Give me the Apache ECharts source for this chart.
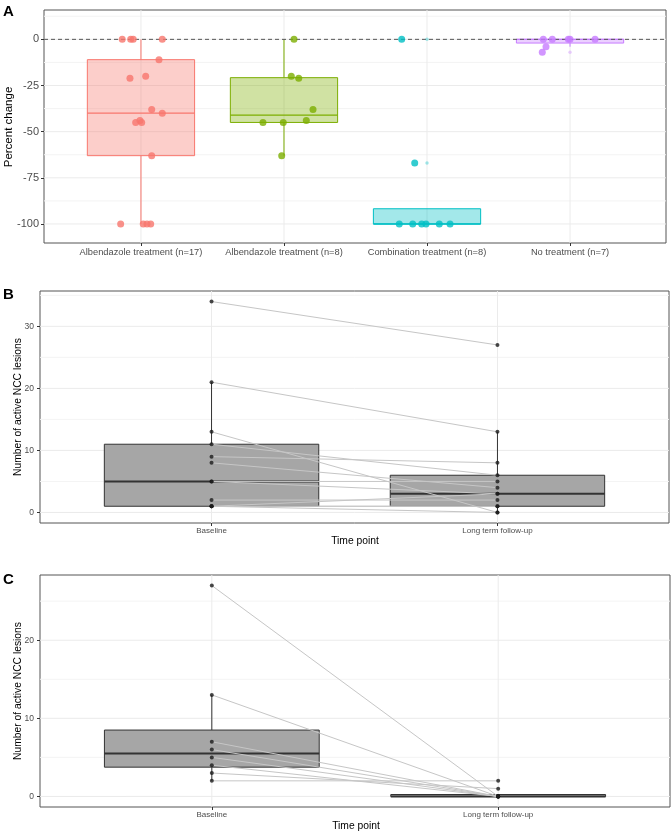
<!DOCTYPE html>
<html><head><meta charset="utf-8">
<script src="https://cdn.jsdelivr.net/npm/echarts@6/dist/echarts.min.js"></script>
<style>html,body{margin:0;padding:0;background:#fff}#c{width:672px;height:833px}</style>
</head><body><div id="c"></div>
<script>
const FONT = '"Liberation Sans", Arial, Helvetica, sans-serif';

// ---------- Panel A data ----------
const aCategories = ['Albendazole treatment (n=17)', 'Albendazole treatment (n=8)', 'Combination treatment (n=8)', 'No treatment (n=7)'];
const aColors = ['#F8766D', '#7CAE00', '#00BFC4', '#C77CFF'];
const aGroup1 = [0, 0, 0, 0, -11, -21, -20, -38, -40, -45, -44, -45, -63, -100, -100, -100, -100];
const aGroup1Jitter = [-0.131, -0.072, -0.054, 0.149, 0.126, -0.077, 0.033, 0.075, 0.149, -0.037, -0.007, 0.005, 0.075, -0.142, 0.016, 0.042, 0.068];
const aGroup2 = [0, -20, -21, -38, -44, -45, -45, -63];
const aGroup2Jitter = [0.07, 0.051, 0.103, 0.203, 0.156, -0.147, -0.005, -0.016];
const aGroup3 = [0, -67, -100, -100, -100, -100, -100, -100];
const aGroup3Jitter = [-0.177, -0.086, -0.194, -0.1, -0.037, -0.007, 0.086, 0.161];
const aGroup4 = [0, 0, 0, 0, 0, -4, -7];
const aGroup4Jitter = [-0.187, -0.124, -0.012, 0, 0.175, -0.168, -0.194];
const aYTicks = [-100, -75, -50, -25, 0];
const aYMinor = [-87.5, -62.5, -37.5, -12.5, 12.5];

// ---------- Panel B data ----------
const timePoints = ['Baseline', 'Long term follow-up'];
const bBaseline = [34, 21, 13, 11, 9, 8, 5, 5, 2, 1, 1, 1, 1];
const bFollowUp = [27, 13, 0, 6, 8, 4, 3, 5, 2, 1, 0, 1, 3];
const bYTicks = [0, 10, 20, 30];
const bYMinor = [5, 15, 25, 35];

// ---------- Panel C data ----------
const cBaseline = [27, 13, 7, 6, 5, 4, 3, 2];
const cFollowUp = [0, 0, 0, 0, 0, 0, 1, 2];
const cYTicks = [0, 10, 20];
const cYMinor = [5, 15, 25];

// ---------- helpers ----------
function boxStats(vals) {
  const s = vals.slice().sort((a, b) => a - b);
  const q = p => { const pos = (s.length - 1) * p; const lo = Math.floor(pos), hi = Math.ceil(pos); return s[lo] + (s[hi] - s[lo]) * (pos - lo); };
  const q1 = q(0.25), md = q(0.5), q3 = q(0.75), iqr = q3 - q1;
  const lf = q1 - 1.5 * iqr, uf = q3 + 1.5 * iqr;
  const inside = s.filter(v => v >= lf && v <= uf);
  return { lo: Math.min(inside[0], q1), q1, md, q3, hi: Math.max(inside[inside.length - 1], q3), out: s.filter(v => v < lf || v > uf) };
}
function gridData(hMajor, hMinor, vMajor) {
  return hMajor.map(v => [0, v, 0]).concat(hMinor.map(v => [0, v, 1])).concat(vMajor.map(v => [1, v, 0]));
}
function gridRender(params, api) {
  const cs = params.coordSys;
  const o = api.value(0), v = api.value(1), minor = api.value(2);
  const style = { stroke: minor ? '#F4F4F4' : '#EBEBEB', lineWidth: 1 };
  if (o === 0) {
    const y = api.coord([0, v])[1];
    return { type: 'line', shape: { x1: cs.x, y1: y, x2: cs.x + cs.width, y2: y }, style };
  }
  const x = api.coord([v, 0])[0];
  return { type: 'line', shape: { x1: x, y1: cs.y, x2: x, y2: cs.y + cs.height }, style };
}
function boxRenderer(strokeFn, fillFn, medWidth, halfW) {
  return function (params, api) {
    const x = api.value(0), lo = api.value(1), q1 = api.value(2), md = api.value(3), q3 = api.value(4), hi = api.value(5);
    const stroke = strokeFn(params.dataIndex), fill = fillFn(params.dataIndex);
    const c = v => api.coord([x, v]);
    const tl = api.coord([x - halfW, q3]), br = api.coord([x + halfW, q1]);
    const ml = api.coord([x - halfW, md]), mr = api.coord([x + halfW, md]);
    return {
      type: 'group', children: [
        { type: 'line', shape: { x1: c(q3)[0], y1: c(q3)[1], x2: c(hi)[0], y2: c(hi)[1] }, style: { stroke, lineWidth: 1 } },
        { type: 'line', shape: { x1: c(q1)[0], y1: c(q1)[1], x2: c(lo)[0], y2: c(lo)[1] }, style: { stroke, lineWidth: 1 } },
        { type: 'rect', shape: { x: tl[0], y: tl[1], width: br[0] - tl[0], height: Math.max(br[1] - tl[1], 0.5) }, style: { fill, stroke, lineWidth: 1 } },
        { type: 'line', shape: { x1: ml[0], y1: ml[1], x2: mr[0], y2: mr[1] }, style: { stroke, lineWidth: medWidth } }
      ]
    };
  };
}
function hexA(hex, a) {
  const n = parseInt(hex.slice(1), 16);
  return 'rgba(' + (n >> 16) + ',' + ((n >> 8) & 255) + ',' + (n & 255) + ',' + a + ')';
}
function pairRender(params, api) {
  const p0 = api.coord([0, api.value(0)]), p1 = api.coord([1, api.value(1)]);
  return { type: 'line', shape: { x1: p0[0], y1: p0[1], x2: p1[0], y2: p1[1] }, style: { stroke: '#C6C6C6', lineWidth: 1 } };
}

// ---------- computed ----------
const aGroups = [aGroup1, aGroup2, aGroup3, aGroup4];
const aJitters = [aGroup1Jitter, aGroup2Jitter, aGroup3Jitter, aGroup4Jitter];
const aStats = aGroups.map(boxStats);
const bStats = [boxStats(bBaseline), boxStats(bFollowUp)];
const cStats = [boxStats(cBaseline), boxStats(cFollowUp)];
const toBox = (s, i) => [i, s.lo, s.q1, s.md, s.q3, s.hi];

const axisTick = { show: true, length: 3, lineStyle: { color: '#333', width: 1 } };

function xAxisCfg(gi, min, max, names, fs, margin) {
  const vals = names.map((_, i) => i);
  return {
    gridIndex: gi, type: 'value', min, max, position: 'bottom',
    axisLine: { show: false, onZero: false },
    axisTick: Object.assign({ customValues: vals }, axisTick),
    axisLabel: { customValues: vals, formatter: v => names[Math.round(v)], fontSize: fs, color: '#4D4D4D', fontFamily: FONT, margin },
    splitLine: { show: false }
  };
}
function yAxisCfg(gi, min, max, ticks, fs, margin) {
  return {
    gridIndex: gi, type: 'value', min, max, position: 'left',
    axisLine: { show: false, onZero: false },
    axisTick: Object.assign({ customValues: ticks }, axisTick),
    axisLabel: { customValues: ticks, fontSize: fs, color: '#4D4D4D', fontFamily: FONT, margin },
    splitLine: { show: false }
  };
}

const series = [];
// Panel A
series.push({ type: 'custom', xAxisIndex: 0, yAxisIndex: 0, silent: true, z: 1, renderItem: gridRender, data: gridData(aYTicks, aYMinor, [0, 1, 2, 3]) });
series.push({ type: 'custom', xAxisIndex: 0, yAxisIndex: 0, silent: true, z: 2,
  renderItem: boxRenderer(i => aColors[i], i => hexA(aColors[i], 0.36), 1.3, 0.375),
  data: aStats.map(toBox) });
series.push({ type: 'custom', xAxisIndex: 0, yAxisIndex: 0, silent: true, z: 3,
  renderItem: function (params, api) {
    const cs = params.coordSys; const y = api.coord([0, api.value(0)])[1];
    return { type: 'line', shape: { x1: cs.x, y1: y, x2: cs.x + cs.width, y2: y }, style: { stroke: '#555', lineWidth: 1, lineDash: [4, 3] } };
  }, data: [[0]] });
aStats.forEach((s, g) => {
  series.push({ type: 'scatter', xAxisIndex: 0, yAxisIndex: 0, z: 4, silent: true, symbolSize: 3.5,
    itemStyle: { color: hexA(aColors[g], 0.45) }, data: s.out.map(v => [g, v]) });
});
aGroups.forEach((vals, g) => {
  series.push({ type: 'scatter', xAxisIndex: 0, yAxisIndex: 0, z: 5, silent: true, symbolSize: 7,
    itemStyle: { color: aColors[g] }, data: vals.map((v, i) => [g + aJitters[g][i], v]) });
});

// Panels B and C
function pairedPanel(idx, base, fol, stats, ticks, minor) {
  series.push({ type: 'custom', xAxisIndex: idx, yAxisIndex: idx, silent: true, z: 1, renderItem: gridRender, data: gridData(ticks, minor, [0, 1]) });
  series.push({ type: 'custom', xAxisIndex: idx, yAxisIndex: idx, silent: true, z: 2,
    renderItem: boxRenderer(() => '#333333', () => '#A6A6A6', 2, 0.375), data: stats.map(toBox) });
  series.push({ type: 'custom', xAxisIndex: idx, yAxisIndex: idx, silent: true, z: 3, renderItem: pairRender,
    data: base.map((b, i) => [b, fol[i]]) });
  series.push({ type: 'scatter', xAxisIndex: idx, yAxisIndex: idx, z: 4, silent: true, symbolSize: 4,
    itemStyle: { color: '#1A1A1A' }, data: base.map(v => [0, v]).concat(fol.map(v => [1, v])) });
}
pairedPanel(1, bBaseline, bFollowUp, bStats, bYTicks, bYMinor);
pairedPanel(2, cBaseline, cFollowUp, cStats, cYTicks, cYMinor);

const gridStyle = { show: true, borderColor: '#555', borderWidth: 1, backgroundColor: '#fff' };
const option = {
  animation: false,
  backgroundColor: '#fff',
  grid: [
    Object.assign({ left: 44, top: 10, width: 622, height: 233 }, gridStyle),
    Object.assign({ left: 40, top: 291, width: 629, height: 232 }, gridStyle),
    Object.assign({ left: 40, top: 575, width: 630, height: 232 }, gridStyle)
  ],
  xAxis: [
    xAxisCfg(0, -0.678, 3.671, aCategories, 9.3, 5),
    xAxisCfg(1, -0.6, 1.6, timePoints, 8, 4),
    xAxisCfg(2, -0.6, 1.6, timePoints, 8, 4)
  ],
  yAxis: [
    yAxisCfg(0, -110.3, 15.9, aYTicks, 11, 5),
    yAxisCfg(1, -1.7, 35.7, bYTicks, 8.5, 6),
    yAxisCfg(2, -1.35, 28.35, cYTicks, 8.5, 6)
  ],
  graphic: [
    { type: 'text', x: 3, y: 4, style: { text: 'A', font: 'bold 15px ' + FONT, fill: '#000' } },
    { type: 'text', x: 3, y: 287, style: { text: 'B', font: 'bold 15px ' + FONT, fill: '#000' } },
    { type: 'text', x: 3, y: 572, style: { text: 'C', font: 'bold 15px ' + FONT, fill: '#000' } },
    { type: 'text', x: 9, y: 127, rotation: Math.PI / 2, style: { text: 'Percent change', font: '11.5px ' + FONT, fill: '#000', align: 'center', verticalAlign: 'middle' } },
    { type: 'text', x: 18, y: 407, rotation: Math.PI / 2, style: { text: 'Number of active NCC lesions', font: '10.3px ' + FONT, fill: '#000', align: 'center', verticalAlign: 'middle' } },
    { type: 'text', x: 18, y: 691, rotation: Math.PI / 2, style: { text: 'Number of active NCC lesions', font: '10.3px ' + FONT, fill: '#000', align: 'center', verticalAlign: 'middle' } },
    { type: 'text', x: 355, y: 541, style: { text: 'Time point', font: '10.3px ' + FONT, fill: '#000', align: 'center', verticalAlign: 'middle' } },
    { type: 'text', x: 356, y: 826, style: { text: 'Time point', font: '10.3px ' + FONT, fill: '#000', align: 'center', verticalAlign: 'middle' } }
  ],
  series
};
const chart = echarts.init(document.getElementById('c'), null, { renderer: 'canvas' });
chart.setOption(option);
</script></body></html>
